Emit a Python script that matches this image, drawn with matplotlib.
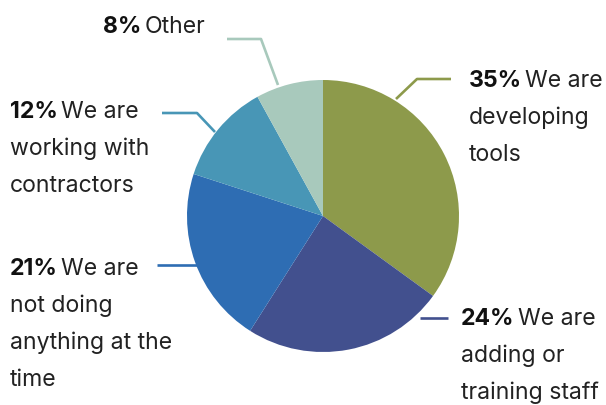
import matplotlib
matplotlib.use("Agg")
import matplotlib.pyplot as plt

plt.rcParams['font.family'] = ['Inter', 'DejaVu Sans']

# survey shares, drawn clockwise from 12 o'clock
shares = [35, 24, 21, 12, 8]
headlines = ["We are", "We are", "We are", "We are", "Other"]
extra_lines = [
    ["developing", "tools"],
    ["adding or", "training staff"],
    ["not doing", "anything at the", "time"],
    ["working with", "contractors"],
    [],
]
colors = ["#8d9a4b", "#42508e", "#2e6db3", "#4896b6", "#a8c9bc"]

# label anchors (x, first baseline) and leader polylines, in pixels
label_pos = [(469, 87), (461, 325), (10, 275), (10, 118), (103, 33)]
leaders = [
    [(396, 99), (417, 79), (451, 79)],
    [(420, 318), (448, 318)],
    [(200, 265), (157, 265)],
    [(215, 132), (197, 113), (162, 113)],
    [(278, 85), (261, 39), (227, 39)],
]
LINE_GAP = 37
FS = 16.6

W, H = 606, 405
fig = plt.figure(figsize=(W / 100, H / 100), dpi=100)
ax = fig.add_axes([0, 0, 1, 1])

# y axis is flipped, so counterclock in data space runs clockwise on screen
ax.pie(shares, colors=colors, startangle=-90, counterclock=True,
       center=(323, 216), radius=136, frame=True,
       wedgeprops=dict(linewidth=0, zorder=3))
ax.set_xlim(0, W)
ax.set_ylim(H, 0)
ax.set_aspect('equal')
ax.axis('off')

for pts, c in zip(leaders, colors):
    xs, ys = zip(*pts)
    ax.plot(xs, ys, color=c, lw=1.9, solid_capstyle='butt', zorder=2)

renderer = fig.canvas.get_renderer()
for share, head, rest, (x, y) in zip(shares, headlines, extra_lines, label_pos):
    t = ax.text(x, y, f"{share}%", fontsize=FS, fontweight='bold',
                color='#111111', va='baseline', ha='left')
    bb = t.get_window_extent(renderer)
    ax.text(bb.x1 + 3, y, head, fontsize=FS, color='#222222',
            va='baseline', ha='left')
    for i, line in enumerate(rest):
        ax.text(x, y + LINE_GAP * (i + 1), line, fontsize=FS, color='#222222',
                va='baseline', ha='left')

fig.savefig("out.png", dpi=100, facecolor='white')
